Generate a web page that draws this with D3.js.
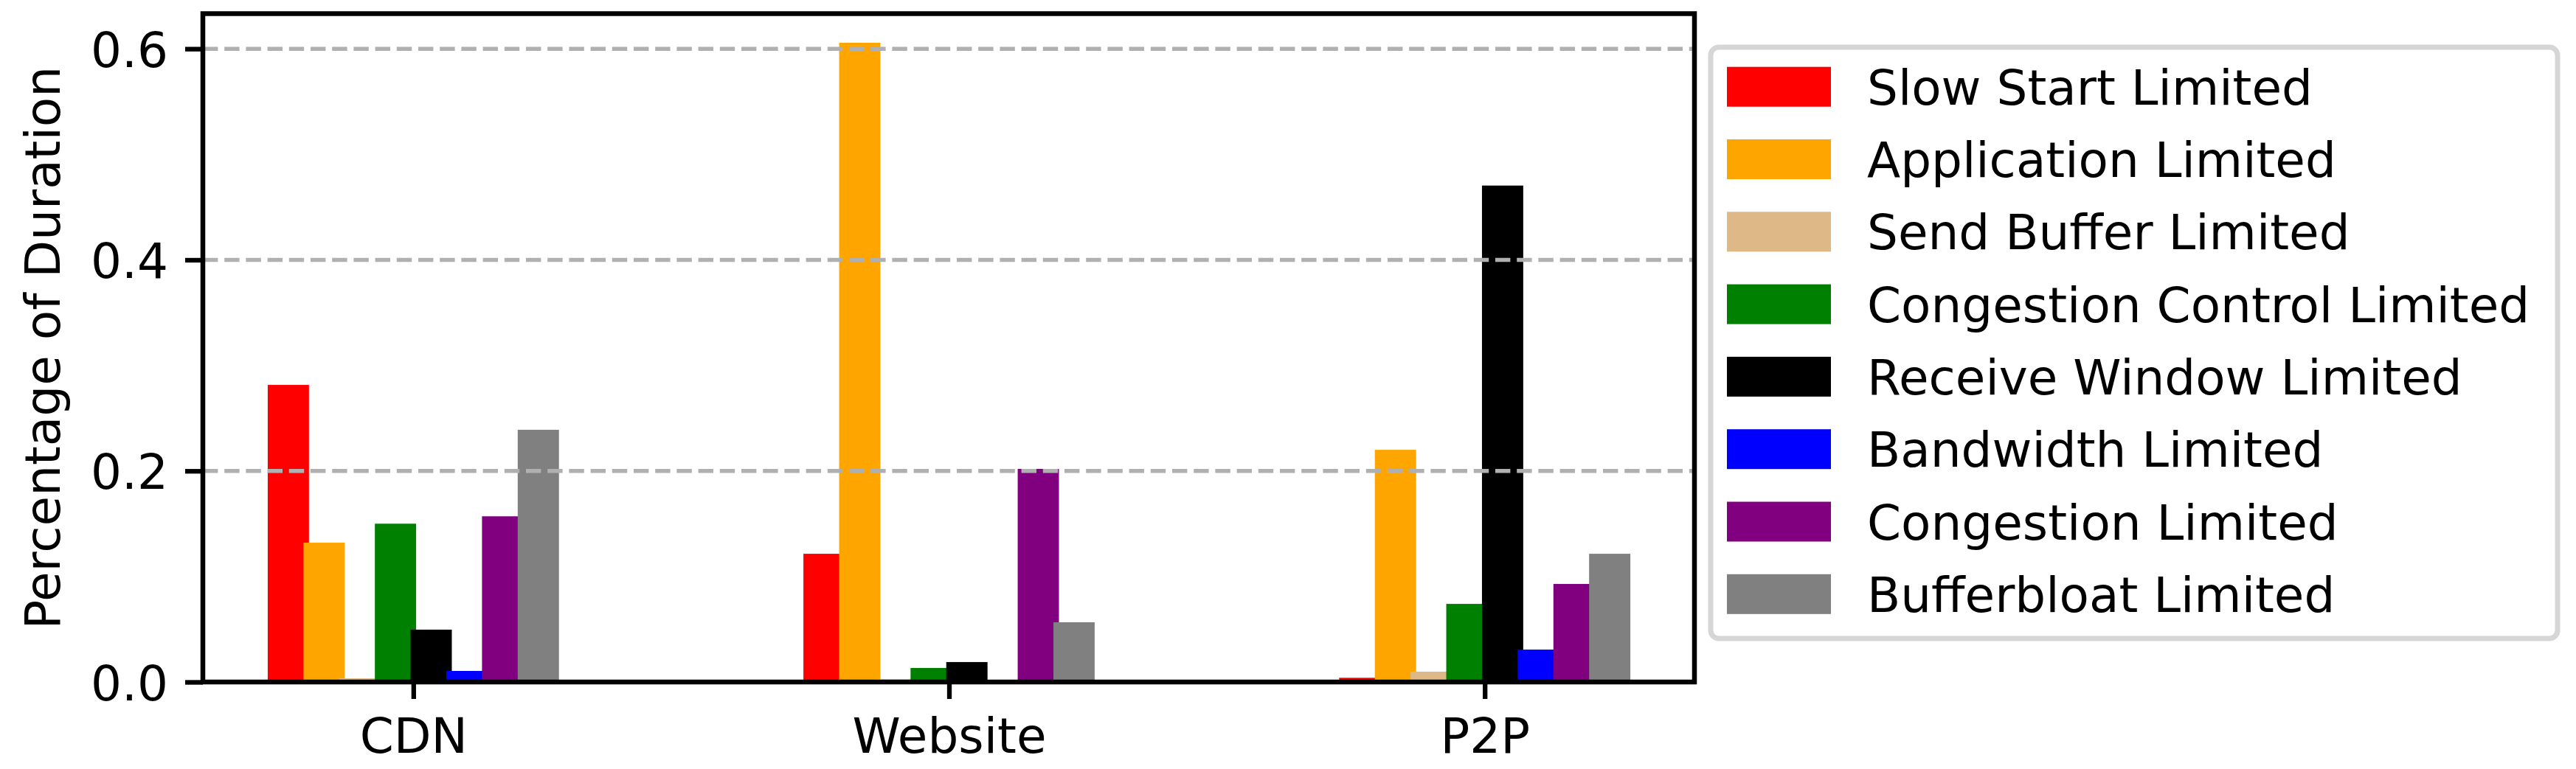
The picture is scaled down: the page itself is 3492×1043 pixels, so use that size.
<!DOCTYPE html>
<html>
<head>
<meta charset="utf-8">
<script src="https://cdn.jsdelivr.net/npm/d3@7"></script>
<style>
  body { margin: 0; background: #fff; }
  svg text { font-family: "DejaVu Sans", sans-serif; }
</style>
</head>
<body>
<svg id="canvas" width="3492" height="1043"></svg>
<script>
// datos
const categorias = ["CDN", "Website", "P2P"];

const series = [
  "Slow Start Limited",
  "Application Limited",
  "Send Buffer Limited",
  "Congestion Control Limited",
  "Receive Window Limited",
  "Bandwidth Limited",
  "Congestion Limited",
  "Bufferbloat Limited"
];

const colores = ["#ff0000", "#ffa500", "#deb887", "#008000", "#000000", "#0000ff", "#800080", "#808080"];

// un arreglo por categoria, en el orden de las series
const cdn = [0.2815, 0.132, 0.0035, 0.150, 0.0496, 0.0105, 0.157, 0.239];
const website = [0.1215, 0.6057, 0.0025, 0.0133, 0.0189, 0.002, 0.2019, 0.0566];
const p2p = [0.004, 0.220, 0.0098, 0.074, 0.4704, 0.0307, 0.0929, 0.1215];

const yTicks = [0.0, 0.2, 0.4, 0.6];

const valores = [cdn, website, p2p];

const svg = d3.select("#canvas");

svg.append("rect").attr("width", 3492).attr("height", 1043).attr("fill", "#fff");

// area de ejes
const ejeIzq = 275, ejeDer = 2297, ejeArriba = 18.5, ejeAbajo = 925;
const fontSize = 66;

let xScale = d3.scaleLinear().domain([-0.3929, 2.3915]).range([ejeIzq, ejeDer]);
let yScale = d3.scaleLinear().domain([0, 0.6333]).range([ejeAbajo, ejeArriba]);

const paso = 1 / 15;     // separacion entre barras
const ancho = 0.077;     // ancho de cada barra

// barras: una serie a la vez, como hace matplotlib
var barras = svg.append("g").attr("class", "barras");
series.forEach((s, j) => {
  barras.selectAll(".b" + j)
    .data(categorias)
    .join("rect")
    .attr("class", "b" + j)
    .attr("x", (d, i) => xScale(i + (j - 3.5) * paso - ancho / 2))
    .attr("width", xScale(ancho) - xScale(0))
    .attr("y", (d, i) => yScale(valores[i][j]))
    .attr("height", (d, i) => yScale(0) - yScale(valores[i][j]))
    .attr("fill", colores[j]);
});

// grilla punteada sobre las barras
svg.append("g")
  .selectAll("line")
  .data(yTicks.filter(t => t > 0))
  .join("line")
  .attr("x1", ejeIzq)
  .attr("x2", ejeDer)
  .attr("y1", d => yScale(d))
  .attr("y2", d => yScale(d))
  .attr("stroke", "#b0b0b0")
  .attr("stroke-width", 5.5)
  .attr("stroke-dasharray", "20.4,8.8");

// eje y
var y_axis = d3.axisLeft(yScale)
  .tickValues(yTicks)
  .tickFormat(d3.format(".1f"))
  .tickSize(24)
  .tickPadding(23);

var yline = svg.append("g")
  .attr("transform", "translate(" + ejeIzq + ",0)")
  .call(y_axis);

// eje x
var x_axis = d3.axisBottom(xScale)
  .tickValues([0, 1, 2])
  .tickFormat(i => categorias[i])
  .tickSize(23)
  .tickPadding(24);

var xline = svg.append("g")
  .attr("transform", "translate(0," + ejeAbajo + ")")
  .call(x_axis);

[yline, xline].forEach(g => {
  g.select(".domain").remove();
  g.selectAll(".tick line").attr("stroke", "#000").attr("stroke-width", 6.3);
  g.selectAll(".tick text")
    .attr("fill", "#000")
    .style("font-size", fontSize + "px")
    .style("font-family", "'DejaVu Sans', sans-serif");
});

yline.selectAll(".tick text").attr("dy", null).attr("y", 24).attr("x", -47);
xline.selectAll(".tick text").attr("dy", null).attr("y", 96);

// marco del grafico
svg.append("rect")
  .attr("x", ejeIzq)
  .attr("y", ejeArriba)
  .attr("width", ejeDer - ejeIzq)
  .attr("height", ejeAbajo - ejeArriba)
  .attr("fill", "none")
  .attr("stroke", "#000")
  .attr("stroke-width", 6.5);

// titulo eje y
svg.append("text")
  .attr("transform", "translate(81," + (ejeArriba + ejeAbajo) / 2 + ") rotate(-90)")
  .attr("text-anchor", "middle")
  .style("font-size", fontSize + "px")
  .text("Percentage of Duration");

// leyenda
var leyenda = svg.append("g").attr("class", "leyenda");

leyenda.append("rect")
  .attr("x", 2319)
  .attr("y", 64)
  .attr("width", 3467 - 2319)
  .attr("height", 866 - 64)
  .attr("rx", 11)
  .attr("fill", "#fff")
  .attr("stroke", "#d6d6d6")
  .attr("stroke-width", 7);

const filaAlto = 98.3;

var items = leyenda.selectAll(".item")
  .data(series)
  .join("g")
  .attr("class", "item")
  .attr("transform", (d, i) => "translate(0," + (90.7 + i * filaAlto) + ")");

items.append("rect")
  .attr("x", 2341)
  .attr("width", 141)
  .attr("height", 54)
  .attr("fill", (d, i) => colores[i]);

items.append("text")
  .attr("x", 2531)
  .attr("y", 27 + 0.3645 * fontSize)
  .style("font-size", fontSize + "px")
  .text(d => d);
</script>
</body>
</html>
